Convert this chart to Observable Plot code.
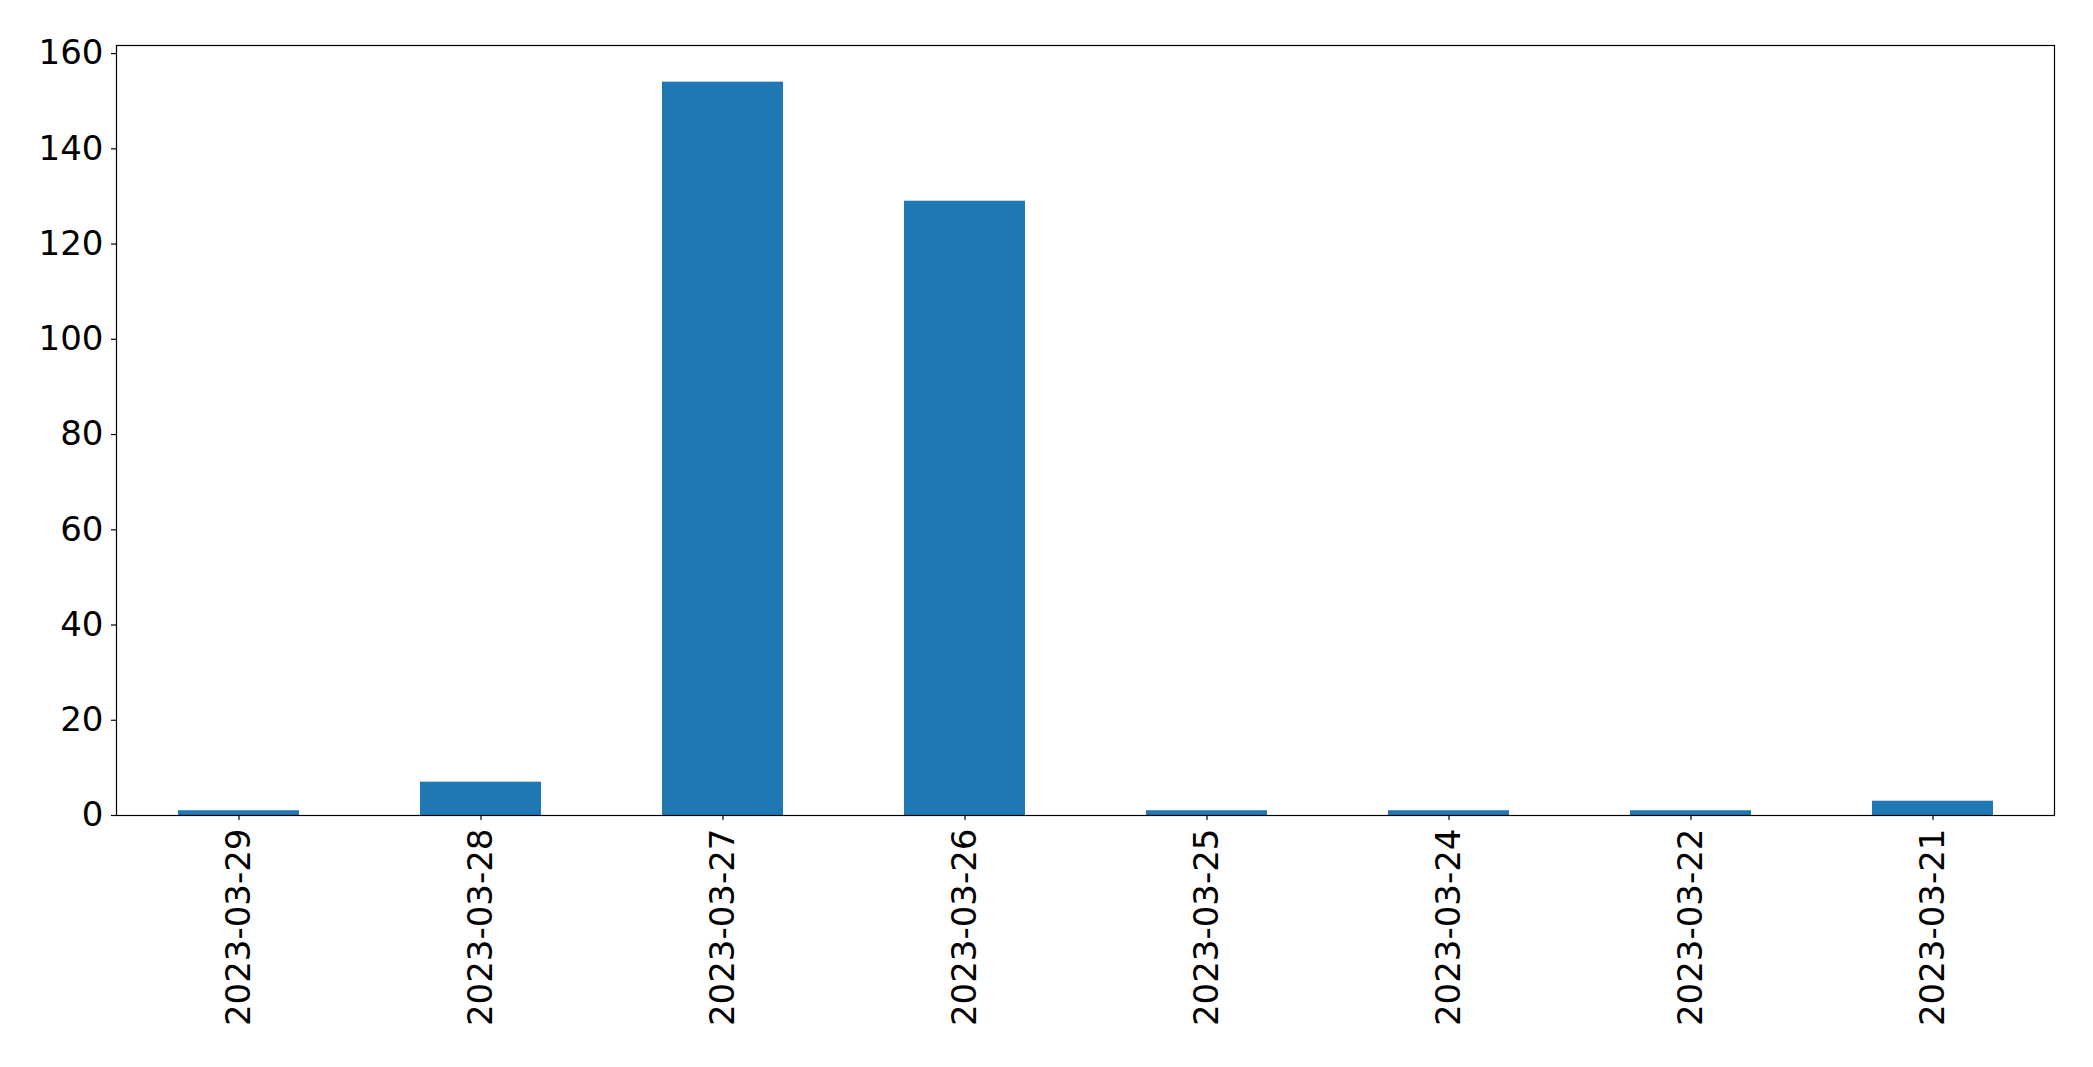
<!DOCTYPE html>
<html>
<head>
<meta charset="utf-8">
<script src="https://cdn.jsdelivr.net/npm/d3@7"></script>
<script src="https://cdn.jsdelivr.net/npm/@observablehq/plot@0.6"></script>
<style>
  html, body { margin: 0; padding: 0; background: #fff; }
  #chart svg { display: block; }
</style>
</head>
<body>
<div id="chart"></div>
<script>
const dates = ["2023-03-29", "2023-03-28", "2023-03-27", "2023-03-26", "2023-03-25", "2023-03-24", "2023-03-22", "2023-03-21"];
const counts = [1, 7, 154, 129, 1, 1, 1, 3];
const yTicks = [0, 20, 40, 60, 80, 100, 120, 140, 160];

const data = dates.map((d, i) => ({date: d, count: counts[i]}));
const yMax = d3.max(counts) * 1.05;

const chart = Plot.plot({
  width: 2093,
  height: 1067,
  marginLeft: 116,
  marginRight: 39,
  marginTop: 45,
  marginBottom: 252,
  style: {fontFamily: "DejaVu Sans", fontSize: "34px", color: "black", background: "white"},
  x: {type: "band", domain: dates, paddingInner: 0.5, paddingOuter: 0.25, label: null},
  y: {domain: [0, yMax], label: null},
  marks: [
    Plot.barY(data, {x: "date", y: "count", fill: "#1f77b4"}),
    Plot.axisX({tickRotate: -90, tickSize: 5, tickPadding: 8, fontSize: 34, stroke: "black", strokeWidth: 1.2, label: null}),
    Plot.axisY({ticks: yTicks, tickSize: 5, tickPadding: 8, fontSize: 34, stroke: "black", strokeWidth: 1.2, label: null}),
    Plot.frame({stroke: "black", strokeWidth: 1.2})
  ]
});
document.getElementById("chart").appendChild(chart);
</script>
</body>
</html>
